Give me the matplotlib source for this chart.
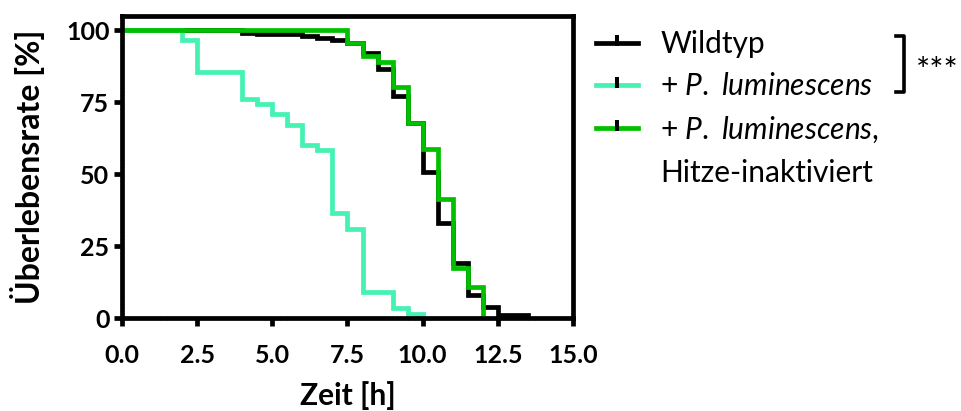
import matplotlib
matplotlib.use("Agg")
import matplotlib.pyplot as plt
from matplotlib.lines import Line2D
from matplotlib.ticker import MultipleLocator

plt.rcParams["font.family"] = ["Lato", "DejaVu Sans"]
plt.rcParams["mathtext.fontset"] = "custom"
plt.rcParams["mathtext.it"] = "Lato:italic"
plt.rcParams["mathtext.rm"] = "Lato"

# Kaplan-Meier curves (time in h, survival in %)
wt_time = [0, 4, 4.5, 6, 6.5, 7, 7.5, 8, 8.5, 9, 9.5, 10, 10.5, 11, 11.5, 12, 12.5, 13.5]
wt_surv = [100, 99, 98.7, 98, 97.2, 96.5, 95.5, 92.2, 86.5, 77.3, 67.8, 50.6, 33, 19, 8, 3.8, 1, 0]

pl_time = [0, 2, 2.5, 4, 4.5, 5, 5.5, 6, 6.5, 7, 7.5, 8, 9, 9.5, 10]
pl_surv = [100, 96.5, 85.5, 76, 74.5, 71, 67, 60, 58.5, 36.5, 31, 9, 3.5, 1.5, 0]

hi_time = [0, 7.5, 8, 8.5, 9, 9.5, 10, 10.5, 11, 11.5, 12]
hi_surv = [100, 95.6, 91, 88.9, 80.3, 67.8, 58.7, 41.3, 17.3, 10.9, 0]

labels = ["Wildtyp",
          r"+ $\it{P.}$ $\it{luminescens}$",
          r"+ $\it{P.}$ $\it{luminescens}$,"]
label_cont = "Hitze-inaktiviert"
colors = ["#000000", "#44F2B2", "#00C000"]

x_ticks = [0, 2.5, 5, 7.5, 10, 12.5, 15]
y_ticks = [0, 25, 50, 75, 100]

fig = plt.figure(figsize=(9.62, 4.11), dpi=100)
ax = fig.add_axes([122 / 962, 93 / 411, 451 / 962, 302 / 411])

lw = 3.4
ax.step(wt_time, wt_surv, where="post", color=colors[0], lw=lw, solid_joinstyle="miter")
ax.step(pl_time, pl_surv, where="post", color=colors[1], lw=lw, solid_joinstyle="miter")
ax.step(hi_time, hi_surv, where="post", color=colors[2], lw=lw, solid_joinstyle="miter")

ax.set_xlim(0, 15)
ax.set_ylim(0, 105)
ax.set_xticks(x_ticks)
ax.set_xticklabels([f"{t:.1f}" for t in x_ticks])
ax.set_yticks(y_ticks)
ax.xaxis.set_minor_locator(MultipleLocator(0.25))
ax.yaxis.set_minor_locator(MultipleLocator(2.5))

for side in ["left", "bottom", "top", "right"]:
    ax.spines[side].set_linewidth(3.4)
    ax.spines[side].set_zorder(5)

ax.tick_params(which="major", direction="out", length=6, width=3.4,
               labelsize=18, top=False, right=False)
ax.tick_params(axis="x", which="major", pad=13)
ax.tick_params(axis="y", which="major", pad=3)
ax.tick_params(which="minor", direction="inout", length=3.5, width=0.5,
               color="#555555", top=False, right=False)
for lab in ax.get_xticklabels() + ax.get_yticklabels():
    lab.set_fontweight("bold")

ax.set_xlabel("Zeit [h]", fontsize=21.5, fontweight="bold", labelpad=10)
ax.set_ylabel("Überlebensrate [%]", fontsize=23, fontweight="bold", labelpad=15)

# censor tick sitting on top of the legend line
tick_marker = [(-0.22, -0.35), (0.22, -0.35), (0.22, 1), (-0.22, 1)]
handles = [Line2D([], [], color=c, lw=lw, marker=tick_marker, markersize=11,
                  markerfacecolor="black", markeredgewidth=0) for c in colors]
# second line of the last entry gets an empty handle
handles.append(Line2D([], [], color="none"))
leg = fig.legend(handles, labels + [label_cont], loc="upper left",
                 bbox_to_anchor=(596 / 962, 1 - 30 / 411),
                 frameon=False, fontsize=21.5, handlelength=1.4, handletextpad=0.75,
                 labelspacing=0.48, borderaxespad=0, borderpad=0)

# bracket joining the first two entries
fig.add_artist(Line2D([896 / 962, 904 / 962, 904 / 962, 896 / 962],
                      [1 - 36 / 411, 1 - 36 / 411, 1 - 92 / 411, 1 - 92 / 411],
                      color="black", lw=2.6, transform=fig.transFigure))
fig.text(916 / 962, 1 - 72 / 411, "***", fontsize=24, va="center", ha="left")

fig.savefig("out.png", dpi=100)
